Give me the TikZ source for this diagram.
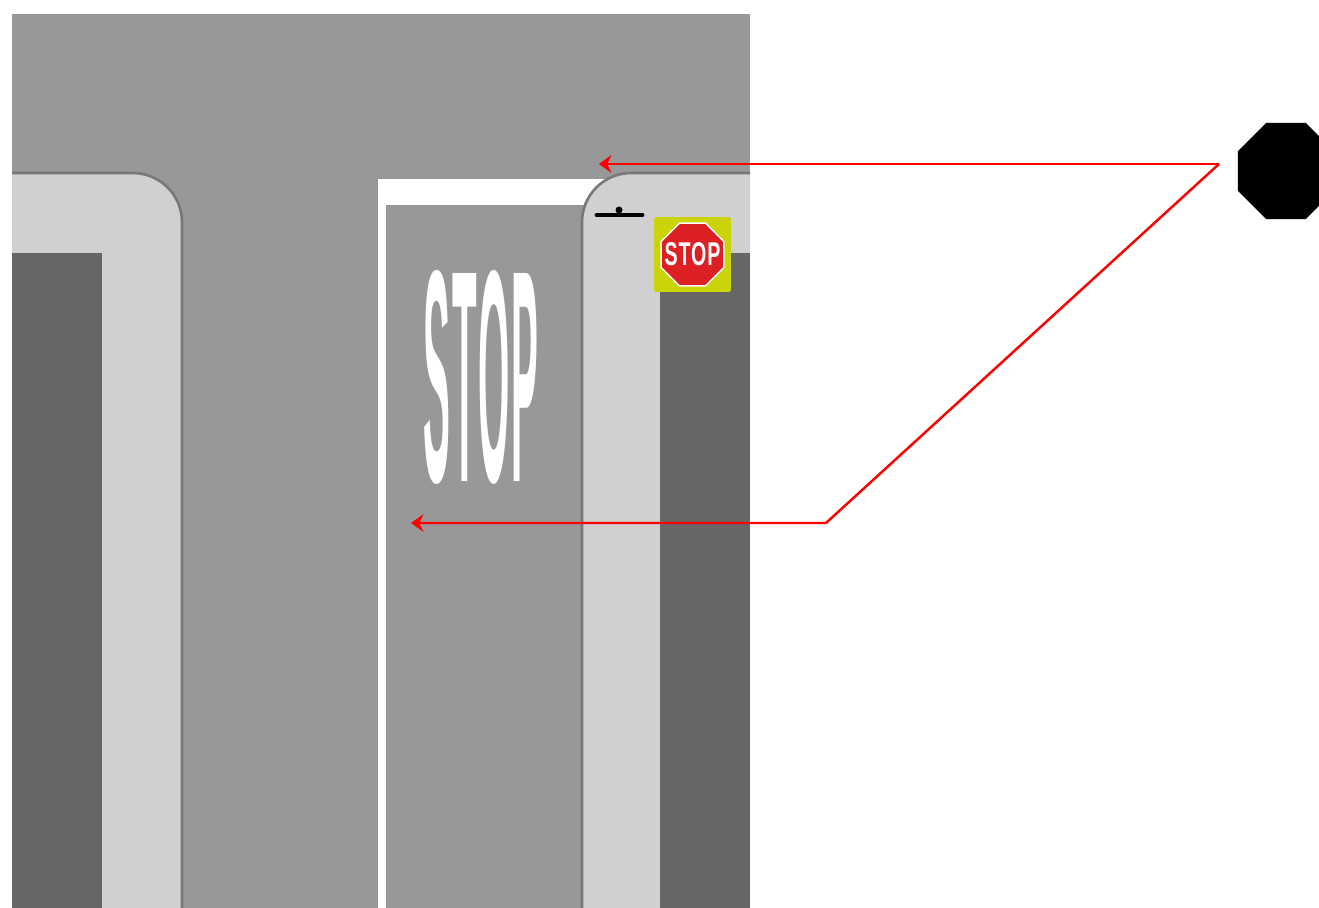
\documentclass[tikz,border=0pt]{standalone}
\usepackage{graphicx}
\usepackage{fontspec}
\setmainfont{Liberation Sans}
\usetikzlibrary{positioning,calc,shapes.geometric,arrows.meta}
\definecolor{RoadGray}{RGB}{152,152,152}
\definecolor{WalkGray}{RGB}{208,208,208}
\definecolor{KerbGray}{RGB}{120,120,120}
\definecolor{LotGray}{RGB}{102,102,102}
\definecolor{SignRed}{RGB}{221,32,36}
\definecolor{SignYellow}{RGB}{202,212,8}

\begin{document}
\begin{tikzpicture}[%
      x=0.02cm, y=-0.02cm,
      walk/.style={fill=WalkGray, draw=KerbGray, line width=1.5pt, rounded corners=28pt},
      lot/.style={fill=LotGray},
      paint/.style={fill=white},
      octagon/.style={regular polygon, regular polygon sides=8, inner sep=0pt},
      arrow/.style={-{Stealth[length=7pt, width=10pt]}, line width=1.4pt, red}
    ]
      \clip (0,0) rectangle (1319,908);
      \fill[white] (0,0) rectangle (1319,908);

      % Road and sidewalks
      \begin{scope}
        \clip (12,14) rectangle (750,908);
        \fill[RoadGray] (12,14) rectangle (750,908);
        \fill[paint] (378,179) rectangle (610,205);
        \fill[paint] (378,179) rectangle (386,908);
        \draw[walk] (-60,950) -- (-60,173) -- (182,173) -- (182,950);
        \draw[walk] (582,950) -- (582,173) -- (800,173) -- (800,950);
        \fill[lot] (12,253) rectangle (102,908);
        \fill[lot] (660,253) rectangle (750,908);
      \end{scope}

      % Road text
      \node[inner sep=0pt, text=white] (roadtext) at (481,377.5) {\resizebox{2.3cm}{4.22cm}{\bfseries\addfontfeature{LetterSpace=5}STOP}};

      % Kerb mark
      \draw[line width=2.8pt, line cap=round] (597,215) -- (642,215);
      \fill (619,210) circle (3.5);

      % Sign
      \node[fill=SignYellow, rounded corners=1pt, minimum width=1.54cm, minimum height=1.5cm, inner sep=0pt] (plate) at (692.5,254.5) {};
      \node[octagon, fill=SignRed, draw=white, line width=0.8pt, minimum size=1.36cm] (sign) at (plate) {};
      \node[inner sep=0pt, text=white] (signtext) at (sign) {\resizebox{1.12cm}{0.46cm}{\bfseries\addfontfeature{LetterSpace=5}STOP}};

      % Symbol
      \node[octagon, fill=black, minimum size=2.08cm] (symbol) at (1286,171) {};

      % Connections
      \coordinate (apex) at (1219,164);
      \coordinate (bend) at (826,523);
      \coordinate (line) at (411,523);
      \coordinate (corner) at (599,164);
      \draw[arrow] (apex) -- (corner);
      \draw[arrow] (apex) -- (bend) -- (line);
    \end{tikzpicture}
\end{document}
